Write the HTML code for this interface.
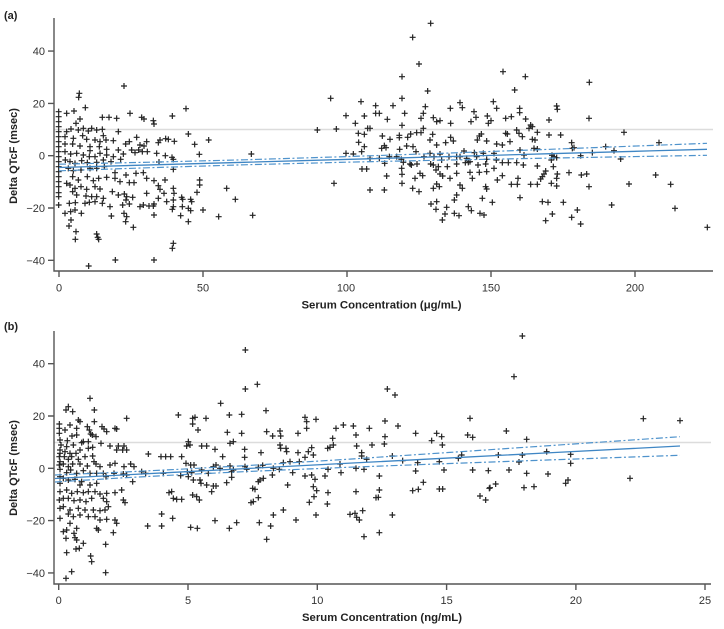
<!DOCTYPE html>
<html><head><meta charset="utf-8"><style>
html,body{margin:0;padding:0;background:#fff;}
svg{display:block;font-family:"Liberation Sans",Arial,sans-serif;}
.t{font-size:11px;fill:#333;}
.b{font-size:11px;font-weight:bold;fill:#222;}
.ax{stroke:#555;stroke-width:1.4;fill:none;}
.pt{stroke:#222;stroke-width:3.6;fill:none;}
.reg{stroke:#3f86c4;stroke-width:1.3;fill:none;}
.ci{stroke:#4f93cc;stroke-width:1.2;fill:none;stroke-dasharray:7 2.5 2 2.5;}
.ref{stroke:#dcdcdc;stroke-width:1.6;}
</style></head><body>
<svg width="724" height="629" viewBox="0 0 724 629" xmlns="http://www.w3.org/2000/svg">
<rect width="724" height="629" fill="#fff"/>

<!-- ================= PANEL A ================= -->
<text class="b" x="4" y="19">(a)</text>
<line class="ref" x1="54" y1="129.5" x2="713" y2="129.5"/>

<g transform="scale(0.333333)">
<path class="pt" d="M176 335m-9 0h18m-9-9v18M176 350m-9 0h18m-9-9v18M176 365m-9 0h18m-9-9v18M176 380m-9 0h18m-9-9v18M176 395m-9 0h18m-9-9v18M176 410m-9 0h18m-9-9v18M176 425m-9 0h18m-9-9v18M176 440m-9 0h18m-9-9v18M176 455m-9 0h18m-9-9v18M176 470m-9 0h18m-9-9v18M176 485m-9 0h18m-9-9v18M176 500m-9 0h18m-9-9v18M176 515m-9 0h18m-9-9v18M176 530m-9 0h18m-9-9v18M176 545m-9 0h18m-9-9v18M176 560m-9 0h18m-9-9v18M176 578m-9 0h18m-9-9v18M176 590m-9 0h18m-9-9v18M176 615m-9 0h18m-9-9v18
M238 280m-9 0h18m-9-9v18M236 292m-9 0h18m-9-9v18M372 258m-9 0h18m-9-9v18M558 326m-9 0h18m-9-9v18M256 323m-9 0h18m-9-9v18M200 340m-9 0h18m-9-9v18M222 333m-9 0h18m-9-9v18M307 352m-9 0h18m-9-9v18M327 352m-9 0h18m-9-9v18M350 355m-9 0h18m-9-9v18M390 340m-9 0h18m-9-9v18M425 352m-9 0h18m-9-9v18M432 357m-9 0h18m-9-9v18M460 362m-9 0h18m-9-9v18M462 372m-9 0h18m-9-9v18M517 348m-9 0h18m-9-9v18M565 402m-9 0h18m-9-9v18M584 433m-9 0h18m-9-9v18M626 420m-9 0h18m-9-9v18M240 357m-9 0h18m-9-9v18M228 370m-9 0h18m-9-9v18M213 387m-9 0h18m-9-9v18M200 395m-9 0h18m-9-9v18M235 390m-9 0h18m-9-9v18M250 385m-9 0h18m-9-9v18M265 393m-9 0h18m-9-9v18M275 385m-9 0h18m-9-9v18M290 390m-9 0h18m-9-9v18M307 388m-9 0h18m-9-9v18M355 395m-9 0h18m-9-9v18M310 407m-9 0h18m-9-9v18M248 407m-9 0h18m-9-9v18M195 410m-9 0h18m-9-9v18M220 415m-9 0h18m-9-9v18M260 418m-9 0h18m-9-9v18M285 420m-9 0h18m-9-9v18M300 425m-9 0h18m-9-9v18M340 422m-9 0h18m-9-9v18M318 420m-9 0h18m-9-9v18M410 412m-9 0h18m-9-9v18M388 425m-9 0h18m-9-9v18M377 432m-9 0h18m-9-9v18M420 435m-9 0h18m-9-9v18M440 425m-9 0h18m-9-9v18M475 428m-9 0h18m-9-9v18M480 420m-9 0h18m-9-9v18M497 416m-9 0h18m-9-9v18M505 418m-9 0h18m-9-9v18M523 424m-9 0h18m-9-9v18
M218 432m-9 0h18m-9-9v18M195 432m-9 0h18m-9-9v18M240 438m-9 0h18m-9-9v18M270 440m-9 0h18m-9-9v18M270 452m-9 0h18m-9-9v18M298 440m-9 0h18m-9-9v18M320 448m-9 0h18m-9-9v18M355 450m-9 0h18m-9-9v18M395 450m-9 0h18m-9-9v18M405 458m-9 0h18m-9-9v18M416 450m-9 0h18m-9-9v18M427 455m-9 0h18m-9-9v18M432 438m-9 0h18m-9-9v18M470 460m-9 0h18m-9-9v18M496 467m-9 0h18m-9-9v18M516 472m-9 0h18m-9-9v18M520 478m-9 0h18m-9-9v18M598 463m-9 0h18m-9-9v18M195 455m-9 0h18m-9-9v18M212 462m-9 0h18m-9-9v18M230 460m-9 0h18m-9-9v18M250 465m-9 0h18m-9-9v18M268 470m-9 0h18m-9-9v18M285 470m-9 0h18m-9-9v18M300 460m-9 0h18m-9-9v18M320 465m-9 0h18m-9-9v18M340 470m-9 0h18m-9-9v18M362 478m-9 0h18m-9-9v18M370 462m-9 0h18m-9-9v18M442 455m-9 0h18m-9-9v18M477 486m-9 0h18m-9-9v18M520 508m-9 0h18m-9-9v18M196 480m-9 0h18m-9-9v18M210 485m-9 0h18m-9-9v18M225 490m-9 0h18m-9-9v18M245 482m-9 0h18m-9-9v18M262 488m-9 0h18m-9-9v18M290 487m-9 0h18m-9-9v18M310 480m-9 0h18m-9-9v18M333 485m-9 0h18m-9-9v18M205 505m-9 0h18m-9-9v18M220 512m-9 0h18m-9-9v18M243 510m-9 0h18m-9-9v18M270 505m-9 0h18m-9-9v18M290 505m-9 0h18m-9-9v18M313 500m-9 0h18m-9-9v18M345 518m-9 0h18m-9-9v18M378 525m-9 0h18m-9-9v18M408 520m-9 0h18m-9-9v18M430 518m-9 0h18m-9-9v18M440 535m-9 0h18m-9-9v18M495 540m-9 0h18m-9-9v18M599 540m-9 0h18m-9-9v18
M218 530m-9 0h18m-9-9v18M235 540m-9 0h18m-9-9v18M262 530m-9 0h18m-9-9v18M280 542m-9 0h18m-9-9v18M296 535m-9 0h18m-9-9v18M320 532m-9 0h18m-9-9v18M345 535m-9 0h18m-9-9v18M360 545m-9 0h18m-9-9v18M388 548m-9 0h18m-9-9v18M402 548m-9 0h18m-9-9v18M462 542m-9 0h18m-9-9v18M200 550m-9 0h18m-9-9v18M210 555m-9 0h18m-9-9v18M225 565m-9 0h18m-9-9v18M243 560m-9 0h18m-9-9v18M260 568m-9 0h18m-9-9v18M285 560m-9 0h18m-9-9v18M300 567m-9 0h18m-9-9v18M337 575m-9 0h18m-9-9v18M355 585m-9 0h18m-9-9v18M373 582m-9 0h18m-9-9v18M380 590m-9 0h18m-9-9v18M398 592m-9 0h18m-9-9v18M440 580m-9 0h18m-9-9v18M475 557m-9 0h18m-9-9v18M480 568m-9 0h18m-9-9v18M492 580m-9 0h18m-9-9v18M520 565m-9 0h18m-9-9v18M522 580m-9 0h18m-9-9v18M545 592m-9 0h18m-9-9v18M572 598m-9 0h18m-9-9v18M575 605m-9 0h18m-9-9v18M591 577m-9 0h18m-9-9v18M599 555m-9 0h18m-9-9v18M680 565m-9 0h18m-9-9v18M218 575m-9 0h18m-9-9v18M230 585m-9 0h18m-9-9v18M258 588m-9 0h18m-9-9v18M275 590m-9 0h18m-9-9v18M290 590m-9 0h18m-9-9v18M310 595m-9 0h18m-9-9v18M330 620m-9 0h18m-9-9v18M378 600m-9 0h18m-9-9v18M388 612m-9 0h18m-9-9v18M420 620m-9 0h18m-9-9v18M430 615m-9 0h18m-9-9v18M460 618m-9 0h18m-9-9v18M475 595m-9 0h18m-9-9v18M500 605m-9 0h18m-9-9v18M520 600m-9 0h18m-9-9v18M520 620m-9 0h18m-9-9v18M548 598m-9 0h18m-9-9v18M565 625m-9 0h18m-9-9v18M609 630m-9 0h18m-9-9v18M706 598m-9 0h18m-9-9v18
M208 610m-9 0h18m-9-9v18M226 608m-9 0h18m-9-9v18M255 610m-9 0h18m-9-9v18M268 607m-9 0h18m-9-9v18M285 605m-9 0h18m-9-9v18M307 610m-9 0h18m-9-9v18M368 615m-9 0h18m-9-9v18M447 618m-9 0h18m-9-9v18M462 612m-9 0h18m-9-9v18M517 628m-9 0h18m-9-9v18M547 620m-9 0h18m-9-9v18M656 650m-9 0h18m-9-9v18M195 640m-9 0h18m-9-9v18M212 635m-9 0h18m-9-9v18M225 630m-9 0h18m-9-9v18M244 640m-9 0h18m-9-9v18M334 648m-9 0h18m-9-9v18M372 640m-9 0h18m-9-9v18M380 650m-9 0h18m-9-9v18M377 665m-9 0h18m-9-9v18M400 682m-9 0h18m-9-9v18M462 645m-9 0h18m-9-9v18M542 647m-9 0h18m-9-9v18M565 665m-9 0h18m-9-9v18M572 632m-9 0h18m-9-9v18M207 678m-9 0h18m-9-9v18M213 660m-9 0h18m-9-9v18M226 718m-9 0h18m-9-9v18M228 695m-9 0h18m-9-9v18M290 702m-9 0h18m-9-9v18M293 712m-9 0h18m-9-9v18M296 718m-9 0h18m-9-9v18M517 745m-9 0h18m-9-9v18M520 730m-9 0h18m-9-9v18M266 798m-9 0h18m-9-9v18M346 780m-9 0h18m-9-9v18M462 780m-9 0h18m-9-9v18"/>
</g>

<g transform="translate(240,10) scale(0.333333)">
<path class="pt" d="M572 40m-9 0h18m-9-9v18M518 82m-9 0h18m-9-9v18M537 162m-9 0h18m-9-9v18M486 200m-9 0h18m-9-9v18M563 243m-9 0h18m-9-9v18M272 265m-9 0h18m-9-9v18M486 265m-9 0h18m-9-9v18M363 275m-9 0h18m-9-9v18M407 287m-9 0h18m-9-9v18M459 287m-9 0h18m-9-9v18M556 290m-9 0h18m-9-9v18M631 295m-9 0h18m-9-9v18M660 278m-9 0h18m-9-9v18M667 293m-9 0h18m-9-9v18M318 317m-9 0h18m-9-9v18M373 318m-9 0h18m-9-9v18M407 310m-9 0h18m-9-9v18M418 310m-9 0h18m-9-9v18M442 328m-9 0h18m-9-9v18M494 310m-9 0h18m-9-9v18M550 310m-9 0h18m-9-9v18M543 325m-9 0h18m-9-9v18M580 323m-9 0h18m-9-9v18M590 335m-9 0h18m-9-9v18M600 332m-9 0h18m-9-9v18M632 340m-9 0h18m-9-9v18M702 305m-9 0h18m-9-9v18M708 322m-9 0h18m-9-9v18M693 335m-9 0h18m-9-9v18M742 318m-9 0h18m-9-9v18M745 340m-9 0h18m-9-9v18M346 340m-9 0h18m-9-9v18M383 355m-9 0h18m-9-9v18M390 355m-9 0h18m-9-9v18M232 360m-9 0h18m-9-9v18M289 357m-9 0h18m-9-9v18M486 346m-9 0h18m-9-9v18
M355 370m-9 0h18m-9-9v18M373 373m-9 0h18m-9-9v18M427 378m-9 0h18m-9-9v18M450 388m-9 0h18m-9-9v18M478 376m-9 0h18m-9-9v18M478 383m-9 0h18m-9-9v18M503 382m-9 0h18m-9-9v18M512 372m-9 0h18m-9-9v18M530 368m-9 0h18m-9-9v18M543 368m-9 0h18m-9-9v18M550 355m-9 0h18m-9-9v18M578 373m-9 0h18m-9-9v18M570 390m-9 0h18m-9-9v18M590 405m-9 0h18m-9-9v18M617 398m-9 0h18m-9-9v18M632 382m-9 0h18m-9-9v18M640 393m-9 0h18m-9-9v18M724 372m-9 0h18m-9-9v18M718 378m-9 0h18m-9-9v18M712 390m-9 0h18m-9-9v18M740 393m-9 0h18m-9-9v18M356 397m-9 0h18m-9-9v18M373 410m-9 0h18m-9-9v18M433 407m-9 0h18m-9-9v18M425 415m-9 0h18m-9-9v18M438 413m-9 0h18m-9-9v18M479 418m-9 0h18m-9-9v18M500 408m-9 0h18m-9-9v18M519 410m-9 0h18m-9-9v18M528 425m-9 0h18m-9-9v18M34 432m-9 0h18m-9-9v18M318 430m-9 0h18m-9-9v18M340 432m-9 0h18m-9-9v18M365 425m-9 0h18m-9-9v18M390 445m-9 0h18m-9-9v18M418 445m-9 0h18m-9-9v18M448 440m-9 0h18m-9-9v18M470 440m-9 0h18m-9-9v18M484 448m-9 0h18m-9-9v18M490 457m-9 0h18m-9-9v18M510 462m-9 0h18m-9-9v18M552 440m-9 0h18m-9-9v18M570 430m-9 0h18m-9-9v18M582 440m-9 0h18m-9-9v18M600 432m-9 0h18m-9-9v18M605 450m-9 0h18m-9-9v18M627 440m-9 0h18m-9-9v18M650 440m-9 0h18m-9-9v18M660 440m-9 0h18m-9-9v18M672 423m-9 0h18m-9-9v18M680 445m-9 0h18m-9-9v18M690 455m-9 0h18m-9-9v18M703 428m-9 0h18m-9-9v18M710 440m-9 0h18m-9-9v18M730 430m-9 0h18m-9-9v18M740 448m-9 0h18m-9-9v18
M434 460m-9 0h18m-9-9v18M485 475m-9 0h18m-9-9v18M514 465m-9 0h18m-9-9v18M531 462m-9 0h18m-9-9v18M572 462m-9 0h18m-9-9v18M580 465m-9 0h18m-9-9v18M595 470m-9 0h18m-9-9v18M622 470m-9 0h18m-9-9v18M650 462m-9 0h18m-9-9v18M676 458m-9 0h18m-9-9v18M685 457m-9 0h18m-9-9v18M714 465m-9 0h18m-9-9v18M737 462m-9 0h18m-9-9v18M366 477m-9 0h18m-9-9v18M380 477m-9 0h18m-9-9v18M440 498m-9 0h18m-9-9v18M486 493m-9 0h18m-9-9v18M540 490m-9 0h18m-9-9v18M548 497m-9 0h18m-9-9v18M588 480m-9 0h18m-9-9v18M600 492m-9 0h18m-9-9v18M608 498m-9 0h18m-9-9v18M630 505m-9 0h18m-9-9v18M650 490m-9 0h18m-9-9v18M690 487m-9 0h18m-9-9v18M697 505m-9 0h18m-9-9v18M718 487m-9 0h18m-9-9v18M740 485m-9 0h18m-9-9v18M282 520m-9 0h18m-9-9v18M486 520m-9 0h18m-9-9v18M525 505m-9 0h18m-9-9v18M518 535m-9 0h18m-9-9v18M537 545m-9 0h18m-9-9v18M590 522m-9 0h18m-9-9v18M580 535m-9 0h18m-9-9v18M598 530m-9 0h18m-9-9v18M660 525m-9 0h18m-9-9v18M667 535m-9 0h18m-9-9v18M737 530m-9 0h18m-9-9v18M740 537m-9 0h18m-9-9v18M390 540m-9 0h18m-9-9v18M433 540m-9 0h18m-9-9v18M650 555m-9 0h18m-9-9v18M643 570m-9 0h18m-9-9v18M727 565m-9 0h18m-9-9v18M573 582m-9 0h18m-9-9v18M590 575m-9 0h18m-9-9v18M588 598m-9 0h18m-9-9v18M620 592m-9 0h18m-9-9v18M685 590m-9 0h18m-9-9v18M694 602m-9 0h18m-9-9v18M38 616m-9 0h18m-9-9v18M607 630m-9 0h18m-9-9v18M615 612m-9 0h18m-9-9v18M643 610m-9 0h18m-9-9v18M657 617m-9 0h18m-9-9v18M720 610m-9 0h18m-9-9v18M732 615m-9 0h18m-9-9v18"/>
</g>

<g transform="translate(474,0) scale(0.333333)">
<path class="pt" d="M87 215m-9 0h18m-9-9v18M154 230m-9 0h18m-9-9v18M122 270m-9 0h18m-9-9v18M346 247m-9 0h18m-9-9v18M58 305m-9 0h18m-9-9v18M68 325m-9 0h18m-9-9v18M137 325m-9 0h18m-9-9v18M137 338m-9 0h18m-9-9v18M248 318m-9 0h18m-9-9v18M250 328m-9 0h18m-9-9v18M345 355m-9 0h18m-9-9v18M225 360m-9 0h18m-9-9v18M51 362m-9 0h18m-9-9v18M95 355m-9 0h18m-9-9v18M112 350m-9 0h18m-9-9v18M155 357m-9 0h18m-9-9v18M170 375m-9 0h18m-9-9v18M165 385m-9 0h18m-9-9v18M175 380m-9 0h18m-9-9v18M128 390m-9 0h18m-9-9v18M135 400m-9 0h18m-9-9v18M190 397m-9 0h18m-9-9v18M225 405m-9 0h18m-9-9v18M260 405m-9 0h18m-9-9v18M95 400m-9 0h18m-9-9v18M100 402m-9 0h18m-9-9v18M145 410m-9 0h18m-9-9v18M175 418m-9 0h18m-9-9v18M183 420m-9 0h18m-9-9v18M450 397m-9 0h18m-9-9v18M293 428m-9 0h18m-9-9v18M555 428m-9 0h18m-9-9v18M68 432m-9 0h18m-9-9v18M85 435m-9 0h18m-9-9v18M108 425m-9 0h18m-9-9v18M138 450m-9 0h18m-9-9v18M150 465m-9 0h18m-9-9v18M180 445m-9 0h18m-9-9v18M190 447m-9 0h18m-9-9v18M295 445m-9 0h18m-9-9v18M300 443m-9 0h18m-9-9v18M395 440m-9 0h18m-9-9v18M420 452m-9 0h18m-9-9v18M355 458m-9 0h18m-9-9v18M320 467m-9 0h18m-9-9v18M440 477m-9 0h18m-9-9v18
M60 460m-9 0h18m-9-9v18M67 480m-9 0h18m-9-9v18M85 488m-9 0h18m-9-9v18M103 488m-9 0h18m-9-9v18M128 488m-9 0h18m-9-9v18M148 495m-9 0h18m-9-9v18M234 466m-9 0h18m-9-9v18M240 470m-9 0h18m-9-9v18M248 473m-9 0h18m-9-9v18M232 480m-9 0h18m-9-9v18M190 498m-9 0h18m-9-9v18M238 500m-9 0h18m-9-9v18M60 505m-9 0h18m-9-9v18M215 513m-9 0h18m-9-9v18M210 522m-9 0h18m-9-9v18M205 530m-9 0h18m-9-9v18M200 537m-9 0h18m-9-9v18M250 522m-9 0h18m-9-9v18M248 535m-9 0h18m-9-9v18M285 518m-9 0h18m-9-9v18M322 525m-9 0h18m-9-9v18M338 522m-9 0h18m-9-9v18M545 525m-9 0h18m-9-9v18M70 540m-9 0h18m-9-9v18M85 527m-9 0h18m-9-9v18M112 553m-9 0h18m-9-9v18M130 553m-9 0h18m-9-9v18M132 535m-9 0h18m-9-9v18M170 553m-9 0h18m-9-9v18M190 553m-9 0h18m-9-9v18M232 550m-9 0h18m-9-9v18M248 558m-9 0h18m-9-9v18M345 560m-9 0h18m-9-9v18M465 552m-9 0h18m-9-9v18M590 553m-9 0h18m-9-9v18M55 607m-9 0h18m-9-9v18M138 593m-9 0h18m-9-9v18M205 605m-9 0h18m-9-9v18M222 607m-9 0h18m-9-9v18M268 607m-9 0h18m-9-9v18M413 615m-9 0h18m-9-9v18M603 625m-9 0h18m-9-9v18M235 642m-9 0h18m-9-9v18M215 662m-9 0h18m-9-9v18M293 652m-9 0h18m-9-9v18M310 630m-9 0h18m-9-9v18M320 672m-9 0h18m-9-9v18M700 682m-9 0h18m-9-9v18"/>
</g>

<!-- regression A -->
<polyline class="reg" points="59,167.5 150,164.94 244,162.3 350,159.33 450,156.52 550,153.7 650,150.9 707,149.3"/>
<polyline class="ci" points="59,164.2 150,162.2 244,159.8 350,156.5 450,153.0 550,149.3 650,145.5 707,143.3"/>
<polyline class="ci" points="59,170.8 150,167.7 244,164.8 350,162.1 450,160.0 550,158.1 650,156.3 707,155.3"/>

<!-- axes A -->
<path class="ax" d="M54 18V271H713"/>
<path class="ax" d="M48 51.1h6M48 103.4h6M48 155.7h6M48 208h6M48 260.3h6M59 271v6M203 271v6M347 271v6M491 271v6M635 271v6"/>
<g class="t" text-anchor="end">
<text x="45" y="55.1">40</text>
<text x="45" y="107.4">20</text>
<text x="45" y="159.7">0</text>
<text x="45" y="212">−20</text>
<text x="45" y="264.3">−40</text>
</g>
<g class="t" text-anchor="middle">
<text x="59" y="291.5">0</text>
<text x="203" y="291.5">50</text>
<text x="346" y="291.5">100</text>
<text x="491" y="291.5">150</text>
<text x="635" y="291.5">200</text>
</g>
<text class="b" x="381.5" y="308.3" text-anchor="middle" textLength="160" lengthAdjust="spacingAndGlyphs">Serum Concentration (μg/mL)</text>
<text class="b" transform="translate(17,156) rotate(-90)" text-anchor="middle">Delta QTcF (msec)</text>

<!-- ================= PANEL B ================= -->
<text class="b" x="4" y="330">(b)</text>
<line class="ref" x1="54" y1="442.5" x2="711" y2="442.5"/>

<g transform="translate(0,310) scale(0.333333)">
<path class="pt" d="M178 342m-9 0h18m-9-9v18M178 355m-9 0h18m-9-9v18M180 390m-9 0h18m-9-9v18M183 405m-9 0h18m-9-9v18M180 420m-9 0h18m-9-9v18M180 430m-9 0h18m-9-9v18M180 455m-9 0h18m-9-9v18M180 478m-9 0h18m-9-9v18M180 500m-9 0h18m-9-9v18M180 520m-9 0h18m-9-9v18M180 545m-9 0h18m-9-9v18M180 595m-9 0h18m-9-9v18M180 625m-9 0h18m-9-9v18M178 370m-9 0h18m-9-9v18M178 440m-9 0h18m-9-9v18M178 465m-9 0h18m-9-9v18M178 570m-9 0h18m-9-9v18
M270 265m-9 0h18m-9-9v18M205 290m-9 0h18m-9-9v18M198 300m-9 0h18m-9-9v18M218 305m-9 0h18m-9-9v18M283 300m-9 0h18m-9-9v18M283 335m-9 0h18m-9-9v18M210 345m-9 0h18m-9-9v18M235 330m-9 0h18m-9-9v18M240 335m-9 0h18m-9-9v18M195 360m-9 0h18m-9-9v18M230 355m-9 0h18m-9-9v18M262 350m-9 0h18m-9-9v18M268 360m-9 0h18m-9-9v18M272 372m-9 0h18m-9-9v18M306 350m-9 0h18m-9-9v18M312 357m-9 0h18m-9-9v18M350 357m-9 0h18m-9-9v18M345 355m-9 0h18m-9-9v18M320 365m-9 0h18m-9-9v18M380 325m-9 0h18m-9-9v18M372 408m-9 0h18m-9-9v18M380 420m-9 0h18m-9-9v18M355 408m-9 0h18m-9-9v18M368 420m-9 0h18m-9-9v18M350 420m-9 0h18m-9-9v18M330 408m-9 0h18m-9-9v18M303 400m-9 0h18m-9-9v18M288 380m-9 0h18m-9-9v18M277 375m-9 0h18m-9-9v18M230 375m-9 0h18m-9-9v18M216 378m-9 0h18m-9-9v18M202 392m-9 0h18m-9-9v18M200 410m-9 0h18m-9-9v18M220 405m-9 0h18m-9-9v18M245 398m-9 0h18m-9-9v18M250 395m-9 0h18m-9-9v18M265 395m-9 0h18m-9-9v18M195 425m-9 0h18m-9-9v18M210 430m-9 0h18m-9-9v18M228 430m-9 0h18m-9-9v18M240 420m-9 0h18m-9-9v18M265 415m-9 0h18m-9-9v18M278 412m-9 0h18m-9-9v18
M193 440m-9 0h18m-9-9v18M205 448m-9 0h18m-9-9v18M215 440m-9 0h18m-9-9v18M235 448m-9 0h18m-9-9v18M255 440m-9 0h18m-9-9v18M278 438m-9 0h18m-9-9v18M282 455m-9 0h18m-9-9v18M190 462m-9 0h18m-9-9v18M205 470m-9 0h18m-9-9v18M218 462m-9 0h18m-9-9v18M240 462m-9 0h18m-9-9v18M262 468m-9 0h18m-9-9v18M288 462m-9 0h18m-9-9v18M300 470m-9 0h18m-9-9v18M330 465m-9 0h18m-9-9v18M345 460m-9 0h18m-9-9v18M372 470m-9 0h18m-9-9v18M392 462m-9 0h18m-9-9v18M200 488m-9 0h18m-9-9v18M212 480m-9 0h18m-9-9v18M230 490m-9 0h18m-9-9v18M250 482m-9 0h18m-9-9v18M270 490m-9 0h18m-9-9v18M290 490m-9 0h18m-9-9v18M310 490m-9 0h18m-9-9v18M318 500m-9 0h18m-9-9v18M342 490m-9 0h18m-9-9v18M370 492m-9 0h18m-9-9v18M380 495m-9 0h18m-9-9v18M398 515m-9 0h18m-9-9v18M190 505m-9 0h18m-9-9v18M205 510m-9 0h18m-9-9v18M225 508m-9 0h18m-9-9v18M245 515m-9 0h18m-9-9v18M270 525m-9 0h18m-9-9v18M290 520m-9 0h18m-9-9v18M240 525m-9 0h18m-9-9v18M200 540m-9 0h18m-9-9v18M215 550m-9 0h18m-9-9v18M232 545m-9 0h18m-9-9v18M250 548m-9 0h18m-9-9v18M265 545m-9 0h18m-9-9v18M285 545m-9 0h18m-9-9v18M300 552m-9 0h18m-9-9v18M320 550m-9 0h18m-9-9v18M345 548m-9 0h18m-9-9v18M365 540m-9 0h18m-9-9v18M370 570m-9 0h18m-9-9v18M375 578m-9 0h18m-9-9v18
M190 565m-9 0h18m-9-9v18M205 565m-9 0h18m-9-9v18M222 572m-9 0h18m-9-9v18M240 570m-9 0h18m-9-9v18M258 575m-9 0h18m-9-9v18M275 565m-9 0h18m-9-9v18M310 565m-9 0h18m-9-9v18M320 575m-9 0h18m-9-9v18M325 590m-9 0h18m-9-9v18M190 590m-9 0h18m-9-9v18M210 600m-9 0h18m-9-9v18M235 595m-9 0h18m-9-9v18M255 600m-9 0h18m-9-9v18M280 600m-9 0h18m-9-9v18M300 602m-9 0h18m-9-9v18M315 600m-9 0h18m-9-9v18M205 612m-9 0h18m-9-9v18M220 620m-9 0h18m-9-9v18M240 615m-9 0h18m-9-9v18M265 620m-9 0h18m-9-9v18M285 620m-9 0h18m-9-9v18M300 630m-9 0h18m-9-9v18M320 628m-9 0h18m-9-9v18M345 630m-9 0h18m-9-9v18M350 640m-9 0h18m-9-9v18M210 640m-9 0h18m-9-9v18M200 660m-9 0h18m-9-9v18M230 655m-9 0h18m-9-9v18M290 655m-9 0h18m-9-9v18M295 660m-9 0h18m-9-9v18M340 668m-9 0h18m-9-9v18M190 665m-9 0h18m-9-9v18M198 685m-9 0h18m-9-9v18M222 670m-9 0h18m-9-9v18M225 683m-9 0h18m-9-9v18M230 690m-9 0h18m-9-9v18M250 700m-9 0h18m-9-9v18M238 715m-9 0h18m-9-9v18M200 728m-9 0h18m-9-9v18M228 717m-9 0h18m-9-9v18M272 738m-9 0h18m-9-9v18M275 755m-9 0h18m-9-9v18M317 703m-9 0h18m-9-9v18M317 788m-9 0h18m-9-9v18M215 785m-9 0h18m-9-9v18M198 805m-9 0h18m-9-9v18
M535 315m-9 0h18m-9-9v18M578 325m-9 0h18m-9-9v18M585 322m-9 0h18m-9-9v18M578 342m-9 0h18m-9-9v18M594 360m-9 0h18m-9-9v18M565 395m-9 0h18m-9-9v18M560 408m-9 0h18m-9-9v18M570 405m-9 0h18m-9-9v18M605 408m-9 0h18m-9-9v18M620 408m-9 0h18m-9-9v18M645 418m-9 0h18m-9-9v18M700 395m-9 0h18m-9-9v18M445 432m-9 0h18m-9-9v18M483 440m-9 0h18m-9-9v18M497 440m-9 0h18m-9-9v18M512 440m-9 0h18m-9-9v18M545 440m-9 0h18m-9-9v18M558 460m-9 0h18m-9-9v18M572 465m-9 0h18m-9-9v18M582 465m-9 0h18m-9-9v18M605 480m-9 0h18m-9-9v18M625 490m-9 0h18m-9-9v18M640 470m-9 0h18m-9-9v18M648 465m-9 0h18m-9-9v18M660 475m-9 0h18m-9-9v18M690 468m-9 0h18m-9-9v18M695 485m-9 0h18m-9-9v18M700 480m-9 0h18m-9-9v18M507 548m-9 0h18m-9-9v18M520 565m-9 0h18m-9-9v18M545 568m-9 0h18m-9-9v18M530 568m-9 0h18m-9-9v18M515 545m-9 0h18m-9-9v18M578 555m-9 0h18m-9-9v18M590 560m-9 0h18m-9-9v18M598 570m-9 0h18m-9-9v18M603 520m-9 0h18m-9-9v18M620 525m-9 0h18m-9-9v18M640 528m-9 0h18m-9-9v18M635 545m-9 0h18m-9-9v18M490 490m-9 0h18m-9-9v18M437 490m-9 0h18m-9-9v18M402 470m-9 0h18m-9-9v18M425 485m-9 0h18m-9-9v18M485 612m-9 0h18m-9-9v18M518 625m-9 0h18m-9-9v18M443 648m-9 0h18m-9-9v18M485 648m-9 0h18m-9-9v18M572 652m-9 0h18m-9-9v18M592 655m-9 0h18m-9-9v18M645 632m-9 0h18m-9-9v18M688 655m-9 0h18m-9-9v18M710 638m-9 0h18m-9-9v18M682 367m-9 0h18m-9-9v18M690 400m-9 0h18m-9-9v18M662 280m-9 0h18m-9-9v18M688 315m-9 0h18m-9-9v18M618 325m-9 0h18m-9-9v18M575 488m-9 0h18m-9-9v18M580 510m-9 0h18m-9-9v18M600 510m-9 0h18m-9-9v18M648 528m-9 0h18m-9-9v18M680 518m-9 0h18m-9-9v18M695 502m-9 0h18m-9-9v18M565 500m-9 0h18m-9-9v18M542 497m-9 0h18m-9-9v18M562 485m-9 0h18m-9-9v18M668 440m-9 0h18m-9-9v18"/>
</g>

<g transform="translate(240,320) scale(0.333333)">
<path class="pt" d="M16 90m-9 0h18m-9-9v18M16 207m-9 0h18m-9-9v18M52 193m-9 0h18m-9-9v18M78 272m-9 0h18m-9-9v18M5 283m-9 0h18m-9-9v18M5 340m-9 0h18m-9-9v18M80 335m-9 0h18m-9-9v18M98 348m-9 0h18m-9-9v18M120 333m-9 0h18m-9-9v18M122 348m-9 0h18m-9-9v18M174 340m-9 0h18m-9-9v18M195 292m-9 0h18m-9-9v18M200 305m-9 0h18m-9-9v18M200 325m-9 0h18m-9-9v18M228 298m-9 0h18m-9-9v18M120 375m-9 0h18m-9-9v18M122 385m-9 0h18m-9-9v18M138 385m-9 0h18m-9-9v18M140 395m-9 0h18m-9-9v18M14 388m-9 0h18m-9-9v18M14 412m-9 0h18m-9-9v18M63 398m-9 0h18m-9-9v18M174 398m-9 0h18m-9-9v18M205 395m-9 0h18m-9-9v18M215 383m-9 0h18m-9-9v18M220 405m-9 0h18m-9-9v18M195 412m-9 0h18m-9-9v18M178 425m-9 0h18m-9-9v18M150 425m-9 0h18m-9-9v18M130 428m-9 0h18m-9-9v18M100 445m-9 0h18m-9-9v18M118 448m-9 0h18m-9-9v18M55 442m-9 0h18m-9-9v18M68 436m-9 0h18m-9-9v18M15 440m-9 0h18m-9-9v18M20 448m-9 0h18m-9-9v18M97 465m-9 0h18m-9-9v18M70 475m-9 0h18m-9-9v18M60 480m-9 0h18m-9-9v18M55 485m-9 0h18m-9-9v18M158 458m-9 0h18m-9-9v18M195 468m-9 0h18m-9-9v18M215 465m-9 0h18m-9-9v18M225 478m-9 0h18m-9-9v18M255 468m-9 0h18m-9-9v18M264 448m-9 0h18m-9-9v18M263 385m-9 0h18m-9-9v18M270 382m-9 0h18m-9-9v18M280 375m-9 0h18m-9-9v18M278 355m-9 0h18m-9-9v18M288 325m-9 0h18m-9-9v18M310 315m-9 0h18m-9-9v18M340 318m-9 0h18m-9-9v18M348 345m-9 0h18m-9-9v18M350 378m-9 0h18m-9-9v18M365 398m-9 0h18m-9-9v18M365 408m-9 0h18m-9-9v18M380 418m-9 0h18m-9-9v18M396 375m-9 0h18m-9-9v18M388 325m-9 0h18m-9-9v18M435 303m-9 0h18m-9-9v18M435 350m-9 0h18m-9-9v18M433 372m-9 0h18m-9-9v18M457 408m-9 0h18m-9-9v18M474 318m-9 0h18m-9-9v18M442 207m-9 0h18m-9-9v18M465 225m-9 0h18m-9-9v18
M300 432m-9 0h18m-9-9v18M303 458m-9 0h18m-9-9v18M348 445m-9 0h18m-9-9v18M372 448m-9 0h18m-9-9v18M418 468m-9 0h18m-9-9v18M418 510m-9 0h18m-9-9v18M415 532m-9 0h18m-9-9v18M408 533m-9 0h18m-9-9v18M348 515m-9 0h18m-9-9v18M264 518m-9 0h18m-9-9v18M262 552m-9 0h18m-9-9v18M230 512m-9 0h18m-9-9v18M220 500m-9 0h18m-9-9v18M222 530m-9 0h18m-9-9v18M208 547m-9 0h18m-9-9v18M143 495m-9 0h18m-9-9v18M38 505m-9 0h18m-9-9v18M45 508m-9 0h18m-9-9v18M55 533m-9 0h18m-9-9v18M40 545m-9 0h18m-9-9v18M33 548m-9 0h18m-9-9v18M130 570m-9 0h18m-9-9v18M100 585m-9 0h18m-9-9v18M228 585m-9 0h18m-9-9v18M168 600m-9 0h18m-9-9v18M58 608m-9 0h18m-9-9v18M92 618m-9 0h18m-9-9v18M80 658m-9 0h18m-9-9v18M330 583m-9 0h18m-9-9v18M345 580m-9 0h18m-9-9v18M350 592m-9 0h18m-9-9v18M358 600m-9 0h18m-9-9v18M368 572m-9 0h18m-9-9v18M457 585m-9 0h18m-9-9v18M372 650m-9 0h18m-9-9v18M418 638m-9 0h18m-9-9v18M488 422m-9 0h18m-9-9v18M527 340m-9 0h18m-9-9v18M533 428m-9 0h18m-9-9v18M527 453m-9 0h18m-9-9v18M550 487m-9 0h18m-9-9v18M518 512m-9 0h18m-9-9v18M535 508m-9 0h18m-9-9v18M575 362m-9 0h18m-9-9v18M590 340m-9 0h18m-9-9v18M605 350m-9 0h18m-9-9v18M607 375m-9 0h18m-9-9v18M598 425m-9 0h18m-9-9v18M612 450m-9 0h18m-9-9v18M598 507m-9 0h18m-9-9v18M608 507m-9 0h18m-9-9v18M655 415m-9 0h18m-9-9v18M665 405m-9 0h18m-9-9v18M690 295m-9 0h18m-9-9v18M683 345m-9 0h18m-9-9v18M698 352m-9 0h18m-9-9v18M698 450m-9 0h18m-9-9v18M720 528m-9 0h18m-9-9v18M737 540m-9 0h18m-9-9v18M745 452m-9 0h18m-9-9v18M748 505m-9 0h18m-9-9v18"/>
</g>

<g transform="translate(474,310) scale(0.333333)">
<path class="pt" d="M145 78m-9 0h18m-9-9v18M120 200m-9 0h18m-9-9v18M97 363m-9 0h18m-9-9v18M158 388m-9 0h18m-9-9v18M508 326m-9 0h18m-9-9v18M618 332m-9 0h18m-9-9v18M73 435m-9 0h18m-9-9v18M145 435m-9 0h18m-9-9v18M218 425m-9 0h18m-9-9v18M290 433m-9 0h18m-9-9v18M135 456m-9 0h18m-9-9v18M290 460m-9 0h18m-9-9v18M105 480m-9 0h18m-9-9v18M158 490m-9 0h18m-9-9v18M222 492m-9 0h18m-9-9v18M468 505m-9 0h18m-9-9v18M282 510m-9 0h18m-9-9v18M275 520m-9 0h18m-9-9v18M150 533m-9 0h18m-9-9v18M180 530m-9 0h18m-9-9v18M65 522m-9 0h18m-9-9v18M48 533m-9 0h18m-9-9v18"/>
</g>

<!-- regression B -->
<polyline class="reg" points="55,478.5 120,475.1 179,472.05 250,468.36 350,463.16 450,457.96 550,452.76 680,446"/>
<polyline class="ci" points="55,475 120,472.2 179,469.3 250,465.4 350,459.1 450,452.4 550,445.6 680,436.7"/>
<polyline class="ci" points="55,482 120,478 179,474.8 250,471.4 350,467.2 450,463.5 550,459.9 680,455.3"/>

<!-- axes B -->
<path class="ax" d="M54 331V584H711"/>
<path class="ax" d="M48 363.7h6M48 416h6M48 468.3h6M48 520.6h6M48 572.9h6M58.7 584v6M188 584v6M317.3 584v6M446.6 584v6M575.9 584v6M705 584v6"/>
<g class="t" text-anchor="end">
<text x="45" y="367.7">40</text>
<text x="45" y="420">20</text>
<text x="45" y="472.3">0</text>
<text x="45" y="524.6">−20</text>
<text x="45" y="576.9">−40</text>
</g>
<g class="t" text-anchor="middle">
<text x="58.7" y="604">0</text>
<text x="188" y="604">5</text>
<text x="317.3" y="604">10</text>
<text x="446.6" y="604">15</text>
<text x="575.9" y="604">20</text>
<text x="705" y="604">25</text>
</g>
<text class="b" x="382" y="621" text-anchor="middle" textLength="160" lengthAdjust="spacingAndGlyphs">Serum Concentration (ng/mL)</text>
<text class="b" transform="translate(17,468) rotate(-90)" text-anchor="middle">Delta QTcF (msec)</text>
</svg>
</body></html>
